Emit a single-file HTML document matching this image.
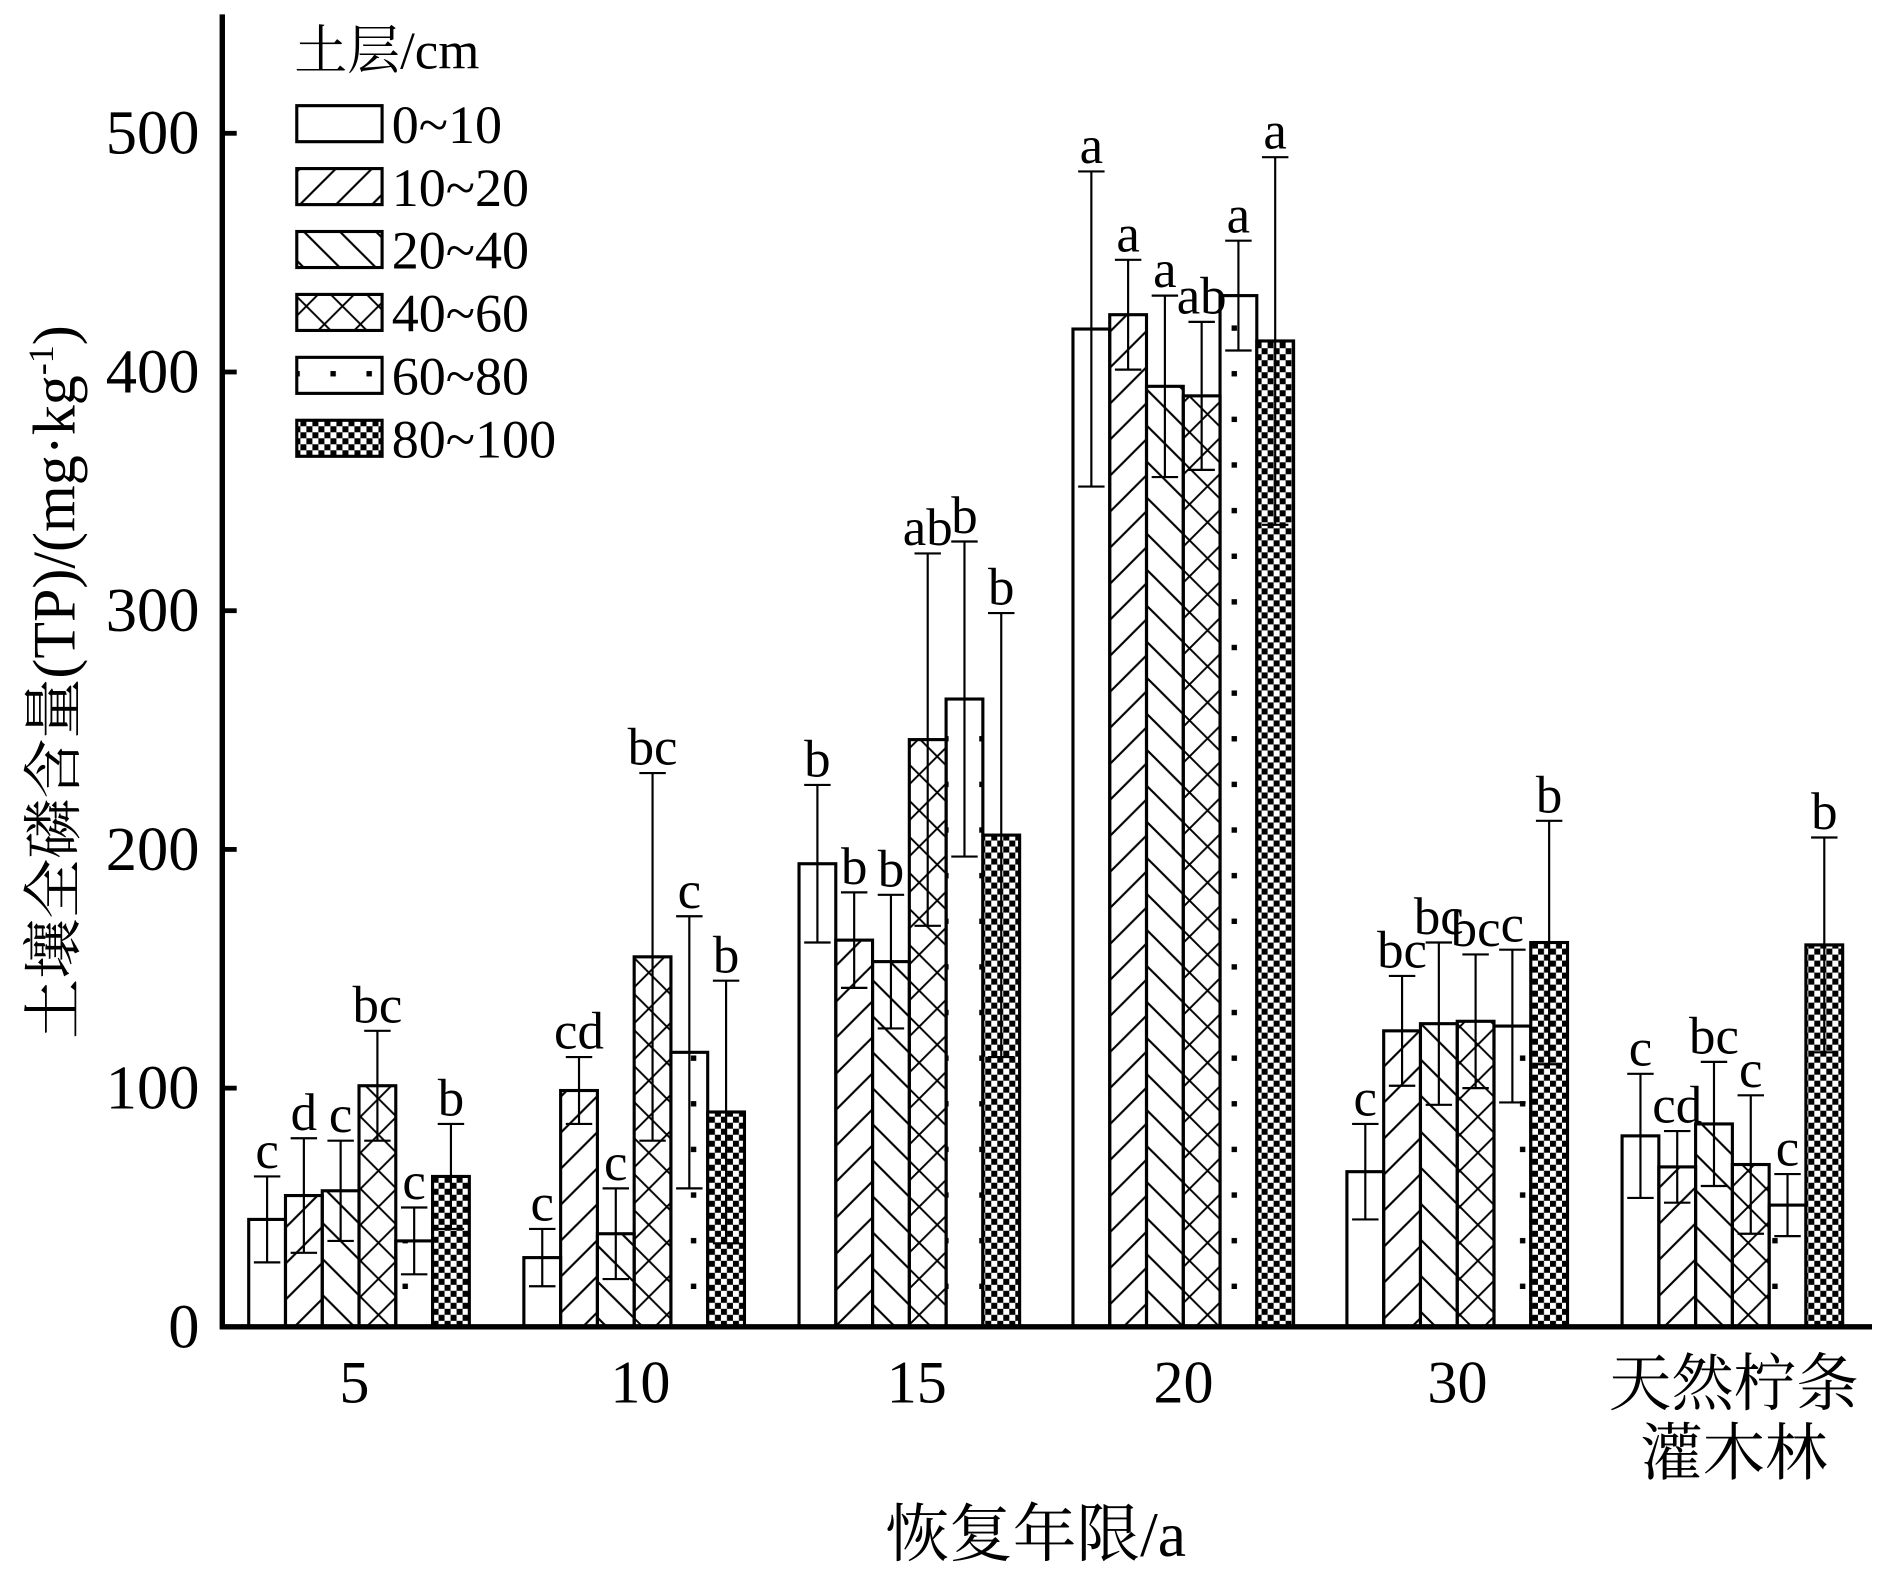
<!DOCTYPE html>
<html><head><meta charset="utf-8"><style>html,body{margin:0;padding:0;background:#fff}svg{display:block}</style></head>
<body>
<svg id="s" width="1878" height="1573" viewBox="0 0 1563 1310" preserveAspectRatio="none" xmlns="http://www.w3.org/2000/svg" font-family="'Liberation Serif','Noto Serif CJK SC',serif">
<defs>
<pattern id="p1" patternUnits="userSpaceOnUse" width="30" height="30"><path d="M-3,33 L33,-3 M-3,3 L3,-3 M27,33 L33,27" stroke="#000" stroke-width="1.8"/></pattern>
<pattern id="p2" patternUnits="userSpaceOnUse" width="30" height="30"><path d="M-3,-3 L33,33 M27,-3 L33,3 M-3,27 L3,33" stroke="#000" stroke-width="1.8"/></pattern>
<pattern id="p3" patternUnits="userSpaceOnUse" width="30" height="30"><path d="M-3,33 L33,-3 M-3,3 L3,-3 M27,33 L33,27 M-3,-3 L33,33 M27,-3 L33,3 M-3,27 L3,33" stroke="#000" stroke-width="1.6"/></pattern>
<pattern id="p4" patternUnits="userSpaceOnUse" width="30" height="38"><rect x="5" y="5" width="4.5" height="4.5" fill="#000"/></pattern>
<pattern id="p5" patternUnits="userSpaceOnUse" width="10" height="10"><rect width="10" height="10" fill="#fff"/><rect x="0" y="0" width="5" height="5" fill="#000"/><rect x="5" y="5" width="5" height="5" fill="#000"/></pattern>
</defs>
<g id="g"></g>
</svg>
<script>
var g=document.getElementById('g');var h='';
var Y0=1105,K=1.988;function y(v){return Y0-v*K}
var fills=['#fff','url(#p1)','url(#p2)','url(#p3)','url(#p4)','url(#p5)'];
var starts=[207,436,665,893,1121,1350],W=30.6;
var data=[
[[45,18,'c'],[55,24,'d'],[57,21,'c'],[101,23,'bc'],[36,14,'c'],[63,22,'b']],
[[29,12,'c'],[99,14,'cd'],[39,19,'c'],[155,77,'bc'],[115,57,'c'],[90,55,'b']],
[[194,33,'b'],[162,20,'b'],[153,28,'b'],[246,78,'ab'],[263,66,'b'],[206,93,'b']],
[[418,66,'a'],[424,23,'a'],[394,38,'a'],[390,31,'ab'],[432,23,'a'],[413,77,'a']],
[[65,20,'c'],[124,23,'bc'],[127,34,'bc'],[128,28,'bc'],[126,32,'c'],[161,51,'b']],
[[80,26,'c'],[67,15,'cd'],[85,26,'bc'],[68,29,'c'],[51,13,'c'],[160,45,'b']]];
for(var i=0;i<6;i++)for(var j=0;j<6;j++){var d=data[i][j],x=starts[i]+j*W,t=y(d[0]);
h+='<rect x="'+x+'" y="'+t+'" width="'+W+'" height="'+(Y0-t)+'" fill="'+fills[j]+'" stroke="#000" stroke-width="2.6"/>';}
for(var i=0;i<6;i++)for(var j=0;j<6;j++){var d=data[i][j],cx=starts[i]+j*W+W/2,a=y(d[0]+d[1]),b=y(d[0]-d[1]);
h+='<path d="M'+cx+','+a+'V'+b+'M'+(cx-11)+','+a+'H'+(cx+11)+'M'+(cx-11)+','+b+'H'+(cx+11)+'" stroke="#000" stroke-width="1.8" fill="none"/>';
h+='<text x="'+cx+'" y="'+(a-7)+'" font-size="44" text-anchor="middle">'+d[2]+'</text>';}
h+='<path d="M185,12V1107M183,1105H1558" stroke="#000" stroke-width="4.5" fill="none"/>';
for(var v=0;v<=500;v+=100){var ty=y(v);if(v>0)h+='<path d="M185,'+ty+'H197" stroke="#000" stroke-width="4"/>';
h+='<text x="166" y="'+(ty+17)+'" font-size="52" text-anchor="end">'+v+'</text>';}
var xl=[[295,'5'],[533,'10'],[763,'15'],[985,'20'],[1213,'30']];
xl.forEach(function(a){h+='<text x="'+a[0]+'" y="1168" font-size="50" text-anchor="middle">'+a[1]+'</text>';});
h+='<text x="1443" y="1170" font-size="52" text-anchor="middle">天然柠条</text><text x="1443" y="1228" font-size="52" text-anchor="middle">灌木林</text>';
h+='<text x="862" y="1296" font-size="53" text-anchor="middle">恢复年限/a</text>';
h+='<text transform="translate(62,568) rotate(-90)" font-size="50" text-anchor="middle">土壤全磷含量(TP)/(mg·kg<tspan dy="-18" font-size="30">-1</tspan><tspan dy="18">)</tspan></text>';
h+='<text x="245" y="57" font-size="44">土层/cm</text>';
var lab=['0~10','10~20','20~40','40~60','60~80','80~100'];
for(var k=0;k<6;k++){var ly=88+k*52.4;
h+='<rect x="247" y="'+ly+'" width="71" height="30" fill="'+fills[k]+'" stroke="#000" stroke-width="2.6"/>';
h+='<text x="326" y="'+(ly+31)+'" font-size="45">'+lab[k]+'</text>';}
g.innerHTML=h;
</script>
</body></html>
